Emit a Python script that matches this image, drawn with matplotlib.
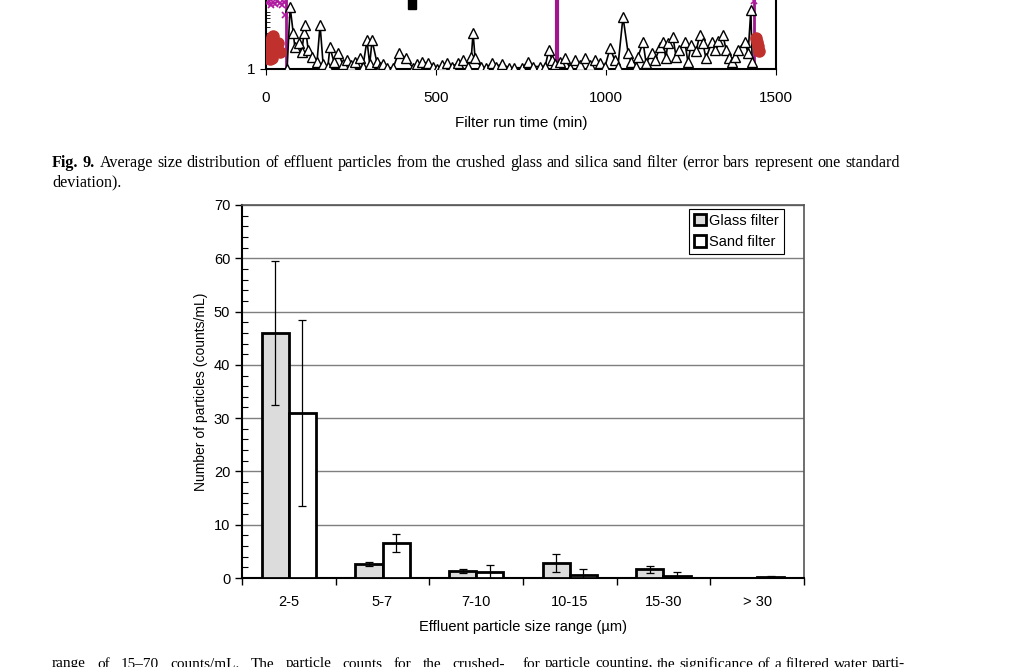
import numpy as np
import matplotlib.pyplot as plt
from matplotlib.patches import Rectangle

plt.rcParams['font.family'] = ['Liberation Sans', 'DejaVu Sans']

# ---- bottom chart data (Fig. 9) ----
size_ranges = ["2-5", "5-7", "7-10", "10-15", "15-30", "> 30"]
glass_mean = [46.0, 2.6, 1.3, 2.8, 1.6, 0.05]
glass_sd = [13.5, 0.4, 0.3, 1.7, 0.7, 0.0]
sand_mean = [31.0, 6.5, 1.2, 0.5, 0.4, 0.1]
sand_sd = [17.5, 1.7, 1.2, 1.1, 0.8, 0.35]

# ---- top chart (cropped Fig. 8) data ----
run_time = [62, 71, 80, 85, 97, 105, 112, 115, 124, 135, 150, 159, 168, 182, 188,
            200, 212, 226, 238, 250, 262, 276, 285, 297, 305, 312, 326, 335, 345,
            356, 374, 390, 412, 432, 445, 459, 476, 490, 503, 518, 532, 547, 565,
            579, 594, 604, 609, 615, 632, 647, 665, 675, 694, 715, 730, 752, 771,
            785, 806, 821, 832, 841, 850, 865, 879, 894, 909, 923, 938, 953, 967,
            982, 997, 1012, 1026, 1035, 1050, 1065, 1074, 1088, 1094, 1109, 1118,
            1135, 1144, 1159, 1168, 1176, 1182, 1197, 1206, 1215, 1232, 1241, 1250,
            1265, 1276, 1285, 1294, 1311, 1320, 1329, 1344, 1353, 1362, 1370, 1379,
            1388, 1408, 1418, 1426, 1430]
run_counts = [1.0, 10.8, 4.0, 2.3, 2.7, 1.9, 4.0, 5.4, 2.1, 1.6, 1.3, 5.4, 1.2, 1.1, 2.3,
              1.3, 1.85, 1.2, 1.4, 1.15, 1.3, 1.5, 1.1, 3.0, 1.2, 3.0, 1.3, 1.1, 1.2,
              1.05, 1.05, 1.85, 1.5, 1.05, 1.2, 1.3, 1.25, 1.1, 1.0, 1.15, 1.25, 1.1, 1.25,
              1.4, 1.1, 1.6, 4.0, 1.5, 1.1, 1.05, 1.25, 1.1, 1.2, 1.05, 1.05, 1.05, 1.3,
              1.1, 1.1, 1.1, 2.1, 1.4, 1.2, 1.3, 1.5, 1.05, 1.4, 1.15, 1.5, 1.15, 1.4,
              1.25, 1.1, 2.2, 1.4, 1.1, 7.4, 1.85, 1.3, 1.1, 1.6, 2.8, 1.25,
              1.85, 1.4, 2.3, 2.8, 1.5, 2.7, 3.4, 1.6, 2.1, 2.8, 1.3, 2.5,
              2.0, 3.7, 2.7, 1.5, 2.8, 2.1, 2.9, 3.7, 2.1, 1.5, 1.3, 1.6,
              2.1, 2.8, 1.85, 9.6, 1.3]
red_time = [2, 4, 9, 12, 14, 17, 19, 21, 22, 26, 36, 40, 1440, 1445, 1447, 1450]
red_counts = [2.7, 1.55, 2.1, 1.45, 2.7, 1.55, 3.4, 3.6, 1.85, 2.1, 2.7, 1.95,
              3.3, 2.8, 2.4, 2.0]
mag_time = [3, 8, 14, 20, 26, 33, 40, 46, 52, 57, 1436]
mag_counts = [12.5, 13.5, 11.5, 13.0, 12.0, 13.8, 12.8, 11.8, 13.2, 8.0, 13.5]
backwash_time = [59, 856, 1435]

caption_1 = ('Average size distribution of effluent particles from the crushed glass '
             'and silica sand filter (error bars represent one standard')
caption_2 = 'deviation).'
body_left = 'range of 15\u201370 counts/mL. The particle counts for the crushed-'
body_right = 'for particle counting, the significance of a filtered water parti-'

fig = plt.figure(figsize=(10.23, 6.67), dpi=100)
W, H = 1023.0, 667.0
rend = fig.canvas.get_renderer()


def ax_rect(x0, y0, x1, y1):
    # pixel box (top-left origin) -> figure fraction
    return [x0 / W, 1 - y1 / H, (x1 - x0) / W, (y1 - y0) / H]


def justify(words, x0, x1, y, **kw):
    # place words so the line fills x0..x1 (pixels), like justified print
    arts = []
    for w in words:
        if isinstance(w, tuple):
            t = fig.text(0, 1 - y / H, w[0], va='center', weight='bold', **kw)
        else:
            t = fig.text(0, 1 - y / H, w, va='center', **kw)
        arts.append(t)
    widths = [a.get_window_extent(renderer=rend).width for a in arts]
    gap = (x1 - x0 - sum(widths)) / (len(arts) - 1)
    pos = x0
    for a, wd in zip(arts, widths):
        a.set_x(pos / W)
        pos += wd + gap


serif = dict(family='Liberation Serif', fontsize=11.6)
body = dict(family='Liberation Serif', fontsize=11)

# ================= top (cropped) chart =================
axt = fig.add_axes(ax_rect(266, -51, 776, 69))
axt.set_yscale('log')
axt.set_ylim(1, 100)
axt.set_xlim(0, 1500)
for t in backwash_time:
    axt.axvline(t, color='#a0168c', lw=2 if t != 856 else 3, zorder=1)
axt.plot(run_time, run_counts, color='black', lw=1.2, marker='^', ms=7.5,
         mfc='white', mec='black', mew=1, zorder=3)
axt.plot(red_time, red_counts, 'o', color='#c0302c', ms=8, zorder=4)
axt.plot(mag_time, mag_counts, 'x', color='#b01aa0', ms=5, mew=1.2, zorder=4)
axt.set_xticks([0, 500, 1000, 1500])
axt.set_yticks([1])
axt.set_yticklabels(['1'])
axt.yaxis.set_minor_formatter(plt.NullFormatter())
axt.tick_params(axis='y', which='minor', direction='in', length=3)
axt.tick_params(axis='both', which='major', labelsize=11, length=4)
axt.tick_params(axis='x', pad=12)
for s in axt.spines.values():
    s.set_linewidth(1.5)
axt.set_xlabel('Filter run time (min)', fontsize=11, labelpad=8)

# cropped legend fragment from the figure above
fig.add_artist(Rectangle((408 / W, 1 - 9 / H), 8 / W, 10 / H, color='black',
                         transform=fig.transFigure))

# ================= caption =================
justify([('Fig.',), ('9.',)] + caption_1.split(), 52, 900, 163, **serif)
fig.text(52 / W, 1 - 182 / H, caption_2, va='center', **serif)

# ================= main bar chart =================
ax = fig.add_axes(ax_rect(242, 205, 804, 578))
x = np.arange(len(size_ranges))
bw = 0.29
ax.bar(x - bw / 2, glass_mean, bw, color='#dcdcdc', edgecolor='black', lw=2,
       label='Glass filter', zorder=3)
ax.bar(x + bw / 2, sand_mean, bw, color='white', edgecolor='black', lw=2,
       label='Sand filter', zorder=3)
ax.errorbar(x - bw / 2, glass_mean, yerr=glass_sd, fmt='none', ecolor='black',
            elinewidth=0.9, capsize=3, capthick=0.9, zorder=4)
ax.errorbar(x + bw / 2, sand_mean, yerr=sand_sd, fmt='none', ecolor='black',
            elinewidth=0.9, capsize=3, capthick=0.9, zorder=4)

ax.set_xlim(-0.5, len(size_ranges) - 0.5)
ax.set_ylim(0, 70)
ax.set_yticks(np.arange(0, 71, 10))
ax.set_yticks(np.arange(0, 71, 2), minor=True)
ax.yaxis.grid(True, color='#7f7f7f', lw=1)
ax.set_axisbelow(True)
ax.tick_params(axis='y', which='major', labelsize=10.5, length=5, width=1)
ax.tick_params(axis='y', which='minor', direction='in', length=4, width=0.8)

ax.set_xticks(np.arange(-0.5, len(size_ranges)), labels=[''] * (len(size_ranges) + 1))
ax.set_xticks(x, labels=size_ranges, minor=True)
ax.tick_params(axis='x', which='major', length=5, width=1)
ax.tick_params(axis='x', which='minor', length=0, labelsize=10.5, pad=12)

ax.spines['left'].set_linewidth(1.5)
ax.spines['bottom'].set_linewidth(1.5)
ax.spines['top'].set_color('#555555')
ax.spines['right'].set_color('#555555')
ax.spines['top'].set_linewidth(1.2)
ax.spines['right'].set_linewidth(1.2)

ax.set_ylabel('Number of particles (counts/mL)', fontsize=10, labelpad=4)
ax.set_xlabel('Effluent particle size range (µm)', fontsize=10.5, labelpad=8)

leg = ax.legend(loc='upper right', bbox_to_anchor=(0.964, 0.99), fontsize=10.5,
                frameon=True, fancybox=False, edgecolor='black', framealpha=1,
                handlelength=0.8, handleheight=0.8, handletextpad=0.2,
                borderpad=0.35, labelspacing=0.5, borderaxespad=0)
leg.get_frame().set_linewidth(0.8)

# ================= body text (cut off at bottom of the page crop) =================
justify(body_left.split(), 52, 505, 664, **body)
justify(body_right.split(), 523, 905, 664, **body)

fig.savefig('out.png', dpi=100)
